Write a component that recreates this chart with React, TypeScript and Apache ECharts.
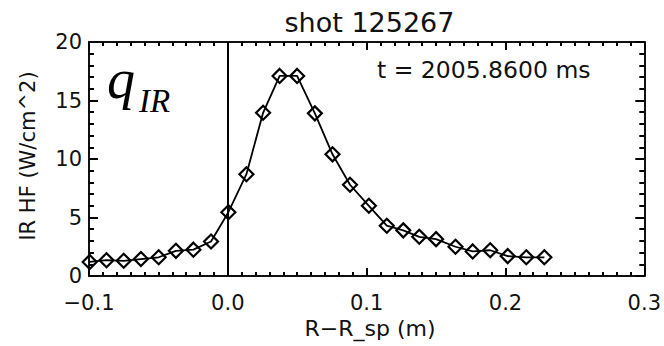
import React, { useEffect, useRef } from "react";
import * as echarts from "echarts";

const xValues = [
  -0.0995, -0.0874, -0.075, -0.0626, -0.0498, -0.0374, -0.0248, -0.0121,
  0.0004, 0.0134, 0.0254, 0.0373, 0.0499, 0.0627, 0.0754, 0.088,
  0.1016, 0.1145, 0.1264, 0.1379, 0.15, 0.164, 0.1764, 0.189,
  0.2016, 0.215, 0.228,
];
const heatFlux = [
  1.2, 1.35, 1.3, 1.45, 1.6, 2.15, 2.25, 2.95,
  5.45, 8.7, 13.95, 17.1, 17.1, 13.9, 10.4, 7.8,
  6.0, 4.3, 3.9, 3.35, 3.15, 2.5, 2.1, 2.2,
  1.7, 1.6, 1.6,
];
const separatrixX = -0.002;
const xTicks = { min: -0.1, max: 0.3, interval: 0.1 };
const yTicks = { min: 0, max: 20, interval: 5 };
const xMinorSplit = 10;
const yMinorSplit = 5;

const titleText = "shot 125267";
const timeText = "t = 2005.8600 ms";
const xName = "R\u2212R_sp (m)";
const yName = "IR HF (W/cm^2)";

const FONT = "DejaVu Sans";
const INK = "#111";

const mkLine = () => ({ show: true, onZero: false, lineStyle: { color: INK, width: 2 } });
const mkTick = (len: number) => ({
  show: true,
  inside: true,
  length: len,
  lineStyle: { color: "black", width: 2 },
});
const mkMinor = (n: number, len: number) => ({
  show: true,
  splitNumber: n,
  length: len,
  lineStyle: { color: "black", width: 2 },
});

export default function App() {
  const ref = useRef<HTMLDivElement>(null);
  useEffect(() => {
    if (!ref.current) return;
    const chart = echarts.init(ref.current, null, { renderer: "svg" });
    const pts = xValues.map((x, i) => [x, heatFlux[i]]);
    chart.setOption({
      animation: false,
      grid: { left: 89, right: 15, top: 42, bottom: 70 },
      xAxis: [
        {
          type: "value",
          position: "bottom",
          ...xTicks,
          axisLine: mkLine(),
          axisTick: mkTick(8),
          minorTick: mkMinor(xMinorSplit, 4),
          splitLine: { show: false },
          axisLabel: {
            show: true,
            color: INK,
            fontFamily: FONT,
            fontSize: 21,
            margin: 16,
            formatter: (v: number) => v.toFixed(1).replace("-", "\u2212"),
          },
        },
        {
          type: "value",
          position: "top",
          ...xTicks,
          axisLine: mkLine(),
          axisTick: mkTick(8),
          minorTick: mkMinor(xMinorSplit, 4),
          splitLine: { show: false },
          axisLabel: { show: false },
        },
      ],
      yAxis: [
        {
          type: "value",
          position: "left",
          ...yTicks,
          axisLine: mkLine(),
          axisTick: mkTick(9),
          minorTick: mkMinor(yMinorSplit, 5),
          splitLine: { show: false },
          axisLabel: { show: true, color: INK, fontFamily: FONT, fontSize: 21, margin: 7 },
        },
        {
          type: "value",
          position: "right",
          ...yTicks,
          axisLine: mkLine(),
          axisTick: mkTick(9),
          minorTick: mkMinor(yMinorSplit, 5),
          splitLine: { show: false },
          axisLabel: { show: false },
        },
      ],
      series: [
        {
          type: "line",
          data: pts,
          symbol: "diamond",
          symbolSize: [14, 14],
          lineStyle: { color: "#000", width: 1.8 },
          itemStyle: { color: "rgba(0,0,0,0)", borderColor: "#000", borderWidth: 2.2 },
          markLine: {
            silent: true,
            symbol: "none",
            label: { show: false },
            lineStyle: { color: "#000", width: 2, type: "solid" },
            data: [{ xAxis: separatrixX }],
          },
        },
      ],
      graphic: [
        {
          type: "text",
          x: 369.5,
          y: 22,
          style: { text: titleText, font: `27px "${FONT}"`, fill: INK, align: "center", verticalAlign: "middle" },
        },
        {
          type: "text",
          x: 377,
          y: 70,
          style: { text: timeText, font: `23.5px "${FONT}"`, fill: INK, align: "left", verticalAlign: "middle" },
        },
        {
          type: "text",
          x: 107,
          y: 79,
          style: { text: "q", font: `italic 56px "Liberation Serif"`, fill: "#000", align: "left", verticalAlign: "middle" },
        },
        {
          type: "text",
          x: 139,
          y: 101,
          style: { text: "IR", font: `italic 33px "Liberation Serif"`, fill: "#000", align: "left", verticalAlign: "middle" },
        },
        {
          type: "text",
          x: 370,
          y: 328,
          style: { text: xName, font: `22px "${FONT}"`, fill: INK, align: "center", verticalAlign: "middle" },
        },
        {
          type: "text",
          x: 28,
          y: 156,
          rotation: Math.PI / 2,
          style: { text: yName, font: `21px "${FONT}"`, fill: INK, align: "center", verticalAlign: "middle" },
        },
      ],
    });
    return () => chart.dispose();
  }, []);
  return <div ref={ref} style={{ width: 664, height: 346, position: "absolute", left: 0, top: 0 }} />;
}
